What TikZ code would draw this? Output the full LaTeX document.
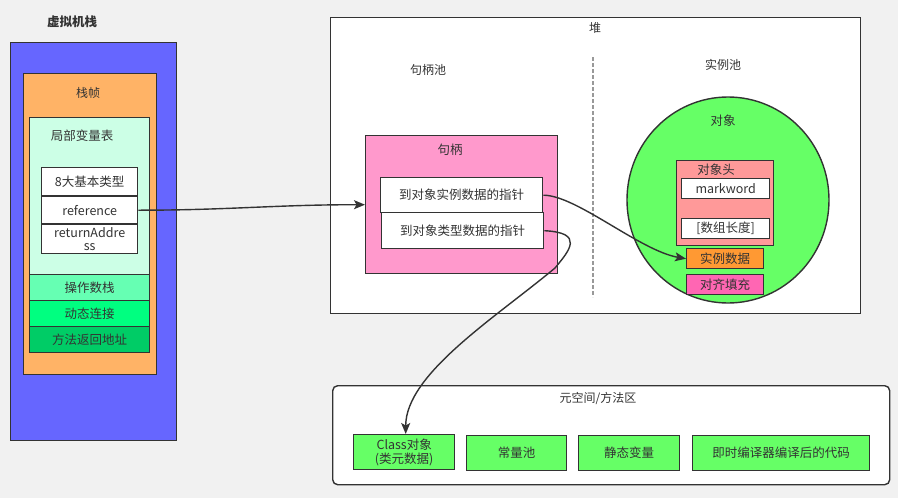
\documentclass[tikz,border=0pt]{standalone}
\usepackage{fontspec}
\setmainfont{Noto Sans CJK SC}
\usetikzlibrary{arrows.meta,shapes.geometric}
\definecolor{ln}{HTML}{333333}
\definecolor{bg}{HTML}{F1F1F1}
\definecolor{vmc}{HTML}{6666FF}
\definecolor{framec}{HTML}{FFB366}
\definecolor{lvtc}{HTML}{CCFFE6}
\definecolor{opsc}{HTML}{66FFB3}
\definecolor{dync}{HTML}{00FF80}
\definecolor{mretc}{HTML}{00CC66}
\definecolor{handc}{HTML}{FF99CC}
\definecolor{objc}{HTML}{66FF66}
\definecolor{hdrc}{HTML}{FF9999}
\definecolor{instc}{HTML}{FF9933}
\definecolor{padc}{HTML}{FF66B3}
\tikzset{
  bx/.style={draw=ln, line width=1.4pt, inner sep=0pt, anchor=north west, text=ln,
    font=\fontsize{12.5}{14}\selectfont, align=center},
  lbl/.style={text=ln, inner sep=0pt, font=\fontsize{12}{14}\selectfont},
  conn/.style={draw=ln, line width=1.4pt, -{Stealth[length=11pt,width=9pt,inset=2.5pt]}},
}
\begin{document}
\begin{tikzpicture}[x=1pt,y=-1pt]
\useasboundingbox (0,0) rectangle (898,498);
\fill[bg] (0,0) rectangle (898,498);

% JVM stack
\node[lbl, font=\fontsize{12.5}{14}\selectfont\bfseries] (vmt) at (72,22) {虚拟机栈};
\node[bx, fill=vmc, minimum width=166, minimum height=398] (vm) at (10,42) {};
\node[bx, fill=framec, minimum width=133, minimum height=301] (frame) at (23,73) {};
\node[lbl] (framet) at (88,93) {栈帧};
\node[bx, fill=lvtc, minimum width=120, minimum height=157] (lvt) at (29,117) {};
\node[lbl, font=\fontsize{12.5}{14}\selectfont] (lvtt) at (82,136) {局部变量表};
\node[bx, fill=white, minimum width=96, minimum height=28] (b8) at (41,167) {8大基本类型};
\node[bx, fill=white, minimum width=96, minimum height=27] (ref) at (41,196) {reference};
\node[bx, fill=white, minimum width=96, minimum height=29, font=\fontsize{12.5}{13}\selectfont] (ret) at (41,224) {returnAddre\\ss};
\node[bx, fill=opsc, minimum width=120, minimum height=26] (ops) at (29,274) {操作数栈};
\node[bx, fill=dync, minimum width=120, minimum height=26] (dyn) at (29,300) {动态连接};
\node[bx, fill=mretc, minimum width=120, minimum height=26] (mret) at (29,326) {方法返回地址};

% Heap
\node[bx, fill=white, minimum width=530, minimum height=296] (heap) at (330,17) {};
\node[lbl] (heapt) at (595,28) {堆};
\node[lbl] (hpt) at (428,70) {句柄池};
\node[lbl] (ipt) at (723,65) {实例池};
\coordinate (dtop) at (593,57);
\coordinate (dbot) at (593,297);
\draw[draw=gray!80, line width=1.3pt, dash pattern=on 4pt off 2pt] (dtop) -- (dbot);

\node[bx, fill=handc, minimum width=192, minimum height=138] (hand) at (365,135) {};
\node[lbl, font=\fontsize{12.5}{14}\selectfont] (handt) at (450,150) {句柄};
\node[bx, fill=white, minimum width=162, minimum height=35] (p1) at (380,177) {到对象实例数据的指针};
\node[bx, fill=white, minimum width=162, minimum height=36] (p2) at (381,212) {到对象类型数据的指针};

\node[ellipse, draw=ln, line width=1.4pt, fill=objc, minimum width=202, minimum height=206, inner sep=0pt] (obj) at (728,200) {};
\node[lbl, font=\fontsize{12.5}{14}\selectfont] (objt) at (723,121) {对象};
\node[bx, fill=hdrc, minimum width=97, minimum height=85] (hdr) at (676,160) {};
\node[lbl, font=\fontsize{12.5}{14}\selectfont] (hdrt) at (716,170) {对象头};
\node[bx, fill=white, minimum width=88, minimum height=20] (mw) at (681,178) {markword};
\node[bx, fill=white, minimum width=88, minimum height=20] (arr) at (681,218) {[数组长度]};
\node[bx, fill=instc, minimum width=77, minimum height=20] (inst) at (686,248) {实例数据};
\node[bx, fill=padc, minimum width=77, minimum height=20] (pad) at (686,274) {对齐填充};

% Metaspace
\node[bx, fill=white, rounded corners=5pt, minimum width=557, minimum height=99] (meta) at (332,385) {};
\node[lbl] (metat) at (598,398) {元空间/方法区};
\node[bx, fill=objc, minimum width=101, minimum height=35, font=\fontsize{12.5}{13.5}\selectfont] (cls) at (353,434) {Class对象\\(类元数据)};
\node[bx, fill=objc, minimum width=100, minimum height=35] (cp) at (466,435) {常量池};
\node[bx, fill=objc, minimum width=101, minimum height=35] (sv) at (578,435) {静态变量};
\node[bx, fill=objc, minimum width=177, minimum height=35] (jit) at (692,435) {即时编译器编译后的代码};

% Connectors
\draw[conn] (ref.east) .. controls +(90,0) and +(-90,0) .. (hand.west);
\draw[conn] (p1.east) .. controls +(33,0) and +(-46,-8) .. (inst.west);
\coordinate (m) at (555,268);
\draw[conn] (p2.east) .. controls +(40,2) and +(15,-18) .. (m)
  .. controls +(-60,50) and +(0,-60) .. ([xshift=1.5]cls.north);
\end{tikzpicture}
\end{document}
